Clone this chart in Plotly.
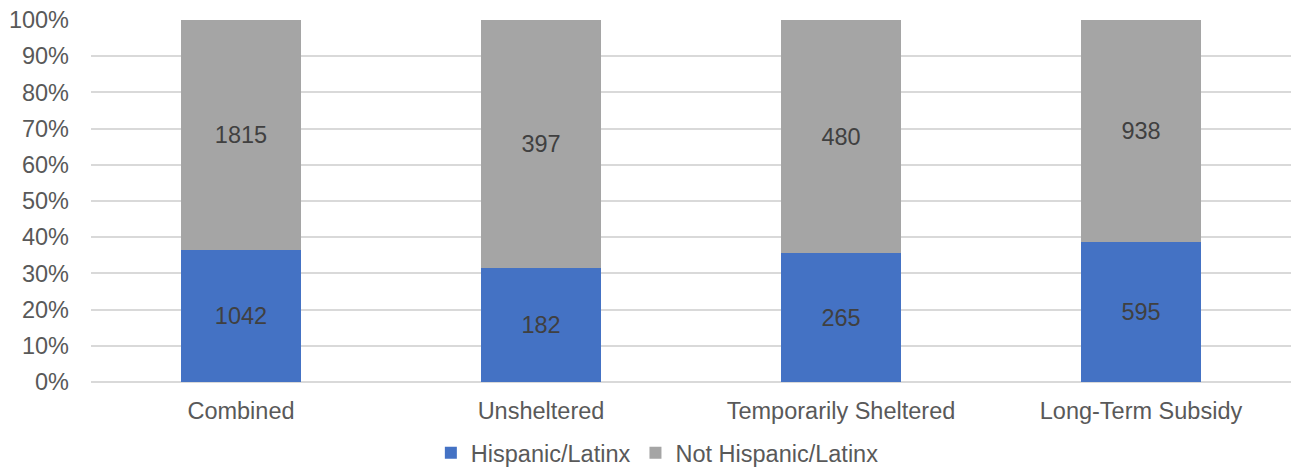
import plotly.graph_objects as go

categories = ["Combined", "Unsheltered", "Temporarily Sheltered", "Long-Term Subsidy"]
hispanic = [1042, 182, 265, 595]
not_hispanic = [1815, 397, 480, 938]

FONT = "Liberation Sans, Arial, sans-serif"
BLUE = "#4472C4"
GRAY = "#A5A5A5"
SIZE = 23.5

fig = go.Figure()
fig.add_trace(go.Bar(
    name="Hispanic/Latinx", x=categories, y=hispanic,
    marker=dict(color=BLUE, line=dict(width=0)),
    text=[str(v) for v in hispanic], textposition="inside",
    insidetextanchor="middle",
    textfont=dict(family=FONT, size=SIZE, color="#404040"),
))
fig.add_trace(go.Bar(
    name="Not Hispanic/Latinx", x=categories, y=not_hispanic,
    marker=dict(color=GRAY, line=dict(width=0)),
    text=[str(v) for v in not_hispanic], textposition="inside",
    insidetextanchor="middle",
    textfont=dict(family=FONT, size=SIZE, color="#404040"),
))

fig.update_layout(
    width=1294, height=473,
    barmode="stack", barnorm="percent", bargap=0.6,
    paper_bgcolor="white", plot_bgcolor="white",
    margin=dict(l=91, r=3, t=20, b=91, autoexpand=False),
    font=dict(family=FONT, size=SIZE, color="#595959"),
    showlegend=True,
    legend=dict(
        orientation="h", x=0.508, xref="container", xanchor="center",
        y=-0.196, yref="paper", yanchor="middle",
        font=dict(family=FONT, size=SIZE, color="#595959"),
        itemwidth=30, traceorder="normal",
    ),
    xaxis=dict(
        showgrid=False, showline=False, ticks="", automargin=False,
        tickfont=dict(family=FONT, size=SIZE, color="#595959"),
        ticklabelstandoff=12,
    ),
    yaxis=dict(
        range=[0, 100], dtick=10, ticksuffix="%", automargin=False,
        showgrid=True, gridcolor="#D9D9D9", gridwidth=1.5,
        zeroline=True, zerolinecolor="#D9D9D9", zerolinewidth=1.5,
        showline=False, ticks="",
        tickfont=dict(family=FONT, size=SIZE, color="#595959"),
        ticklabelstandoff=21,
    ),
)

fig.write_html("out.html")
